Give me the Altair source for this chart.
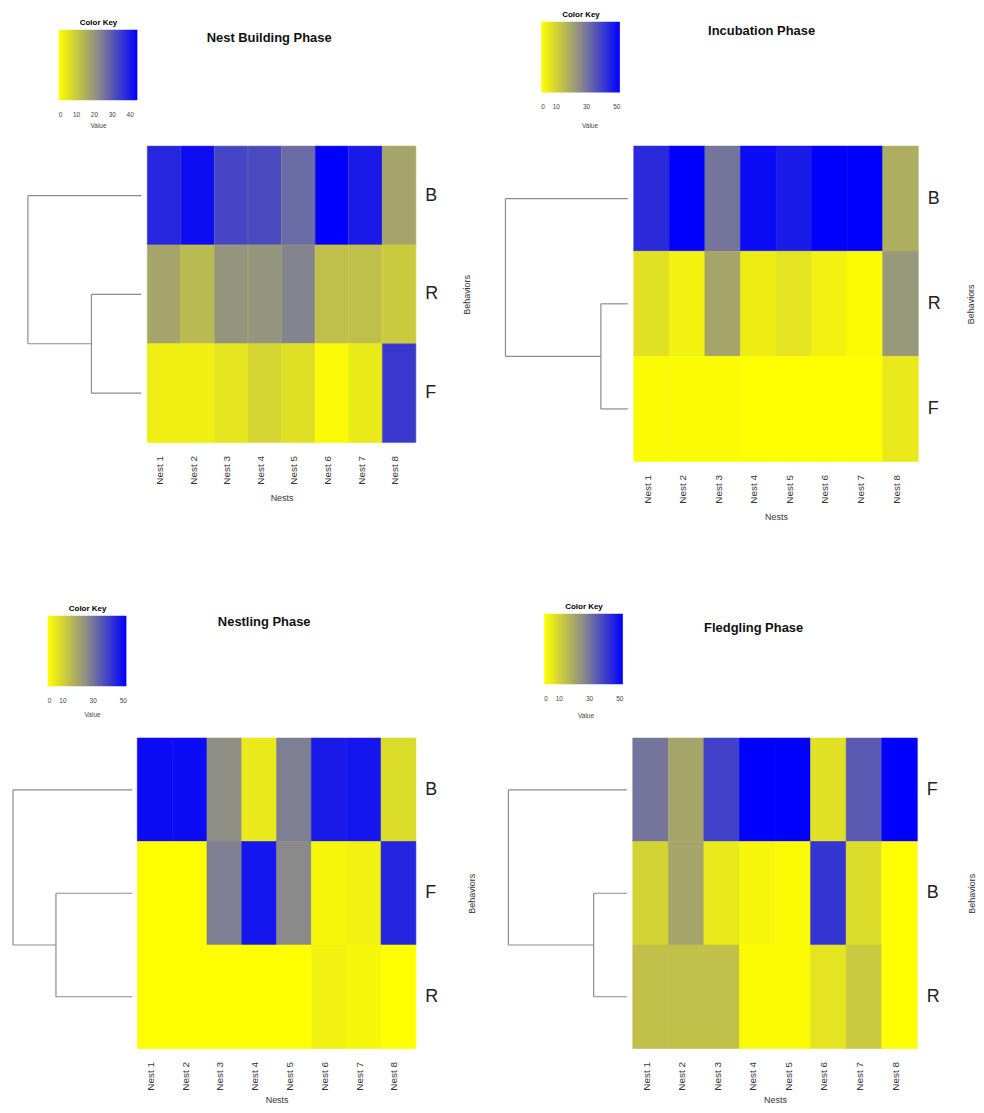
import altair as alt
import pandas as pd

FONT = "Liberation Sans"

nests = ["Nest 1", "Nest 2", "Nest 3", "Nest 4", "Nest 5", "Nest 6", "Nest 7", "Nest 8"]

# Nest Building Phase (rows top->bottom)
nb_rows = ["B", "R", "F"]
nb_B = [38, 42, 33, 32, 27, 44, 40, 17]
nb_R = [17, 13, 20, 20, 23, 12, 12, 10]
nb_F = [3, 3, 5, 8, 6, 1, 4, 35]
nb_inner_h = 0.44

# Incubation Phase
inc_rows = ["B", "R", "F"]
inc_B = [44, 52, 30, 50, 47, 52, 52, 18]
inc_R = [7, 3, 20, 4, 6, 3, 1, 23]
inc_F = [1, 1, 1, 0, 0, 0, 0, 5]
inc_inner_h = 0.22

# Nestling Phase
nst_rows = ["B", "F", "R"]
nst_B = [50, 50, 25, 5, 28, 47, 48, 8]
nst_F = [0, 0, 28, 48, 26, 2, 3, 45]
nst_R = [0, 0, 0, 0, 0, 3, 2, 0]
nst_inner_h = 0.64

# Fledgling Phase
fl_rows = ["F", "B", "R"]
fl_F = [30, 20, 40, 52, 52, 7, 35, 52]
fl_B = [10, 20, 5, 2, 1, 42, 8, 0]
fl_R = [14, 14, 14, 1, 1, 6, 12, 0]
fl_inner_h = 0.28

PALETTE = ["#ffff00", "#8a8a8a", "#0000ff"]


def long_df(rows, series):
    recs = []
    for r, vals in zip(rows, series):
        for n, v in zip(nests, vals):
            recs.append({"nest": n, "behavior": r, "value": v})
    return pd.DataFrame(recs)


def dendro_df(inner_h):
    # leaf 0 joins cluster(leaf1, leaf2) at root height 1
    top, a, b = 0.5, 1.5, 2.5
    mid = (a + b) / 2
    segs = [
        (0, 1, top, top),
        (0, inner_h, a, a),
        (0, inner_h, b, b),
        (inner_h, inner_h, a, b),
        (inner_h, 1, mid, mid),
        (1, 1, top, mid),
    ]
    return pd.DataFrame(segs, columns=["h1", "h2", "p1", "p2"])


def panel(title, rows, series, inner_h, cmax, ticks, g):
    df = long_df(rows, series)
    cscale = alt.Scale(domain=[0, cmax], range=PALETTE, interpolate="rgb")
    heat = alt.Chart(df).mark_rect(strokeWidth=0.6).encode(
        x=alt.X("nest:N", sort=nests,
                scale=alt.Scale(range=[g["hx0"], g["W"]], paddingInner=0, paddingOuter=0),
                axis=alt.Axis(title="Nests", labelAngle=270, labelAlign="right",
                              labelBaseline="middle", labelFontSize=10, labelPadding=13,
                              labelOffset=-4, ticks=False, domain=False, labelColor="#333",
                              titleFontSize=9, titleFontWeight="normal", titlePadding=g["ntp"],
                              titleColor="#333")),
        y=alt.Y("behavior:N", sort=rows,
                scale=alt.Scale(paddingInner=0, paddingOuter=0),
                axis=alt.Axis(title="Behaviors", orient="right", labelAngle=0,
                              labelAlign="left", labelFontSize=18, labelPadding=9,
                              ticks=False, domain=False, labelColor="#222",
                              titleAngle=270, titleFontSize=9, titleFontWeight="normal",
                              titlePadding=g["btp"], titleColor="#333")),
        color=alt.Color("value:Q", scale=cscale,
                        legend=alt.Legend(title="Color Key", orient="none",
                                          legendX=g["lx"], legendY=g["ly"],
                                          direction="horizontal", gradientLength=79,
                                          gradientThickness=71, values=ticks,
                                          labelFontSize=6.5, labelColor="#444",
                                          titleFontSize=8, titleFontWeight="bold",
                                          titleAnchor="middle", titlePadding=3,
                                          labelOverlap=False, gradientStrokeWidth=0,
                                          labelOffset=12, padding=0)),
        stroke=alt.Stroke("value:Q", scale=cscale, legend=None),
    )
    dendro = alt.Chart(dendro_df(inner_h)).mark_rule(color="#8c8c8c", strokeWidth=1.2).encode(
        x=alt.X("h1:Q", scale=alt.Scale(domain=[0, 1], range=[g["dr"], g["dl"]], nice=False, zero=False), axis=None),
        x2="h2:Q",
        y=alt.Y("p1:Q", scale=alt.Scale(domain=[0, 3], reverse=True, nice=False, zero=False), axis=None),
        y2="p2:Q",
    )
    vtxt = alt.Chart(pd.DataFrame({"t": ["Value"]})).mark_text(
        fontSize=6.5, color="#444", font=FONT).encode(
        x=alt.value(g["vx"]), y=alt.value(g["vy"]), text="t:N")
    return alt.layer(heat, dendro, vtxt).resolve_scale(
        x="independent", y="independent", color="independent").properties(
        width=g["W"], height=g["H"],
        title=alt.TitleParams(title, anchor="middle", dx=g["tdx"], dy=g["tdy"], fontSize=13,
                              fontWeight="bold", font=FONT, color="#111", offset=0))


g1 = dict(W=405, H=298, hx0=135, dr=129, dl=15, lx=46, ly=-128, vx=86, vy=-20, tdx=55, tdy=26, btp=34, ntp=9)
g2 = dict(W=415, H=317, hx0=129, dr=123, dl=0, lx=36, ly=-136, vx=85, vy=-20, tdx=50, tdy=27, btp=35, ntp=9)
g3 = dict(W=405, H=312, hx0=125, dr=120, dl=0, lx=35, ly=-134, vx=80, vy=-23, tdx=50, tdy=24, btp=39, ntp=5)
g4 = dict(W=415, H=312, hx0=129, dr=123, dl=4, lx=40, ly=-136, vx=82, vy=-22, tdx=43, tdy=32, btp=37, ntp=5)

p1 = panel("Nest Building Phase", nb_rows, [nb_B, nb_R, nb_F], nb_inner_h, 44, [0, 10, 20, 30, 40], g1)
p2 = panel("Incubation Phase", inc_rows, [inc_B, inc_R, inc_F], inc_inner_h, 52, [0, 10, 30, 50], g2)
p3 = panel("Nestling Phase", nst_rows, [nst_B, nst_F, nst_R], nst_inner_h, 52, [0, 10, 30, 50], g3)
p4 = panel("Fledgling Phase", fl_rows, [fl_F, fl_B, fl_R], fl_inner_h, 52, [0, 10, 30, 50], g4)

row1 = alt.hconcat(p1, p2, spacing=33)
row2 = alt.hconcat(p3, p4, spacing=28)

chart = alt.vconcat(row1, row2, spacing=82).properties(
    padding={"left": 4, "top": 0, "right": 0, "bottom": 0},
    background="white",
).configure(font=FONT).configure_view(stroke=None)

chart.save("out.html", embed_options={"renderer": "svg", "actions": False})
